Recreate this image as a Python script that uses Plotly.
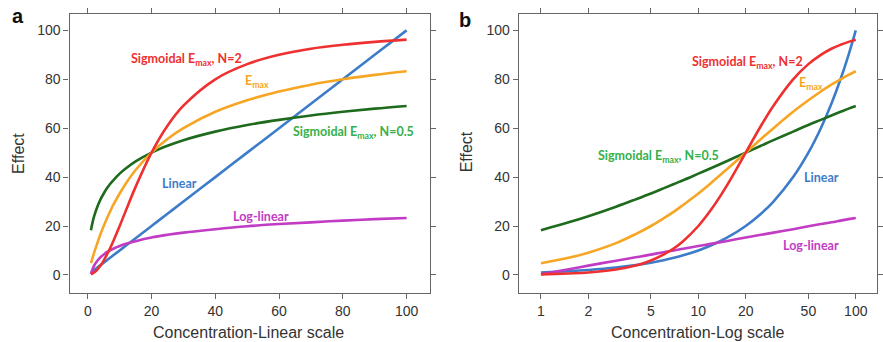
import plotly.graph_objects as go

# Concentration values (shared by both panels)
conc = [1, 1.5, 2, 3, 4, 5, 6, 7, 8, 10, 12, 15, 20, 25, 30, 40, 50, 60, 70, 80, 90, 100]

# Effect values
linear = [1, 1.5, 2, 3, 4, 5, 6, 7, 8, 10, 12, 15, 20, 25, 30, 40, 50, 60, 70, 80, 90, 100]
emax = [4.8, 7.0, 9.1, 13.0, 16.7, 20.0, 23.1, 25.9, 28.6, 33.3, 37.5, 42.9, 50.0, 55.6, 60.0,
        66.7, 71.4, 75.0, 77.8, 80.0, 81.8, 83.3]
sig_n2 = [0.2, 0.6, 1.0, 2.2, 3.8, 5.9, 8.3, 10.9, 13.8, 20.0, 26.5, 36.0, 50.0, 61.0, 69.2,
          80.0, 86.2, 90.0, 92.5, 94.1, 95.3, 96.2]
sig_n05 = [18.3, 21.5, 24.0, 27.9, 30.9, 33.3, 35.4, 37.2, 38.7, 41.4, 43.6, 46.4, 50.0, 52.8,
           55.1, 58.6, 61.3, 63.4, 65.2, 66.7, 68.0, 69.1]
log_linear = [0.3, 2.3, 3.8, 5.8, 7.2, 8.3, 9.3, 10.0, 10.7, 11.8, 12.7, 13.8, 15.3, 16.4, 17.3,
              18.7, 19.9, 20.8, 21.5, 22.2, 22.8, 23.3]

y_ticks = [0, 20, 40, 60, 80, 100]
x_ticks_lin = [0, 20, 40, 60, 80, 100]
x_ticks_log = [1, 2, 5, 10, 20, 50, 100]

RED = "#EE3030"
ORANGE = "#F7A623"
GREEN = "#1E6B1E"
GREEN_TXT = "#35B04A"
BLUE = "#3D7CC9"
MAGENTA = "#C23BC4"

W, H = 883, 342
def px(x):
    return x / W
def py(y):
    return 1 - y / H

series = [
    (linear, BLUE, "Linear"),
    (log_linear, MAGENTA, "Log-linear"),
    (sig_n05, GREEN, "Sigmoidal Emax N=0.5"),
    (emax, ORANGE, "Emax"),
    (sig_n2, RED, "Sigmoidal Emax N=2"),
]

fig = go.Figure()
for xa, ya in [("x", "y"), ("x2", "y2")]:
    for vals, col, name in series:
        fig.add_trace(go.Scatter(x=conc, y=vals, mode="lines", name=name,
                                 line=dict(color=col, width=2.6, shape="spline"),
                                 xaxis=xa, yaxis=ya, showlegend=False))

axis_common = dict(showline=True, linecolor="#666666", linewidth=1.3, mirror="allticks",
                   ticks="outside", ticklen=5, tickcolor="#666666", showgrid=False, zeroline=False,
                   tickfont=dict(family="Liberation Sans, Arial", size=14, color="#333333"))

ydom = [py(293), py(14)]
fig.update_layout(
    width=W, height=H, margin=dict(l=0, r=0, t=0, b=0),
    plot_bgcolor="white", paper_bgcolor="white",
    xaxis=dict(domain=[px(70), px(432)], range=[-5.7, 107.2], tickvals=x_ticks_lin,
               anchor="y", **axis_common),
    yaxis=dict(domain=ydom, range=[-7.4, 106.7], tickvals=y_ticks, anchor="x", **axis_common),
    xaxis2=dict(domain=[px(521.7), px(881.7)], type="log", range=[-0.141, 2.133],
                tickvals=x_ticks_log, ticktext=[str(v) for v in x_ticks_log], anchor="y2",
                **axis_common),
    yaxis2=dict(domain=ydom, range=[-7.4, 106.7], tickvals=y_ticks, anchor="x2", **axis_common),
)

ann = []
def text(x, y, s, size=12, color="#333", angle=0, family="Lato, Liberation Sans"):
    ann.append(dict(x=px(x), y=py(y), xref="paper", yref="paper", text=s, showarrow=False,
                    xanchor="center", yanchor="middle", textangle=angle,
                    font=dict(size=size, color=color, family=family)))

lab_font = "Liberation Sans, Arial"
# panel letters
text(18, 16, "<b>a</b>", size=20, color="#111", family=lab_font)
text(468, 20, "<b>b</b>", size=20, color="#111", family=lab_font)
# axis titles
text(250, 332, "Concentration-Linear scale", size=16, color="#333", family=lab_font)
text(702, 332, "Concentration-Log scale", size=16, color="#333", family=lab_font)
text(18, 153, "Effect", size=16, color="#333", angle=-90, family=lab_font)
text(469, 152, "Effect", size=16, color="#333", angle=-90, family=lab_font)

emx = "E<sub>max</sub>"
LS = 12.5
# panel a labels
text(188, 59, f"<b>Sigmoidal {emx}, N=2</b>", color=RED, size=LS)
text(258, 82, f"<b>{emx}</b>", color=ORANGE, size=LS)
text(356, 133, f"<b>Sigmoidal {emx}, N=0.5</b>", color=GREEN_TXT, size=LS)
text(181, 183, "<b>Linear</b>", color=BLUE, size=LS)
text(262, 216, "<b>Log-linear</b>", color=MAGENTA, size=LS)
# panel b labels
text(752, 62, f"<b>Sigmoidal {emx}, N=2</b>", color=RED, size=LS)
text(816, 83, f"<b>{emx}</b>", color=ORANGE, size=LS)
text(662, 157, f"<b>Sigmoidal {emx}, N=0.5</b>", color=GREEN_TXT, size=LS)
text(826, 177, "<b>Linear</b>", color=BLUE, size=LS)
text(816, 245, "<b>Log-linear</b>", color=MAGENTA, size=LS)

fig.update_layout(annotations=ann)
fig.write_html("out.html", config={"displayModeBar": False},
               post_script="document.body.style.margin='0';document.body.style.overflow='hidden';")
